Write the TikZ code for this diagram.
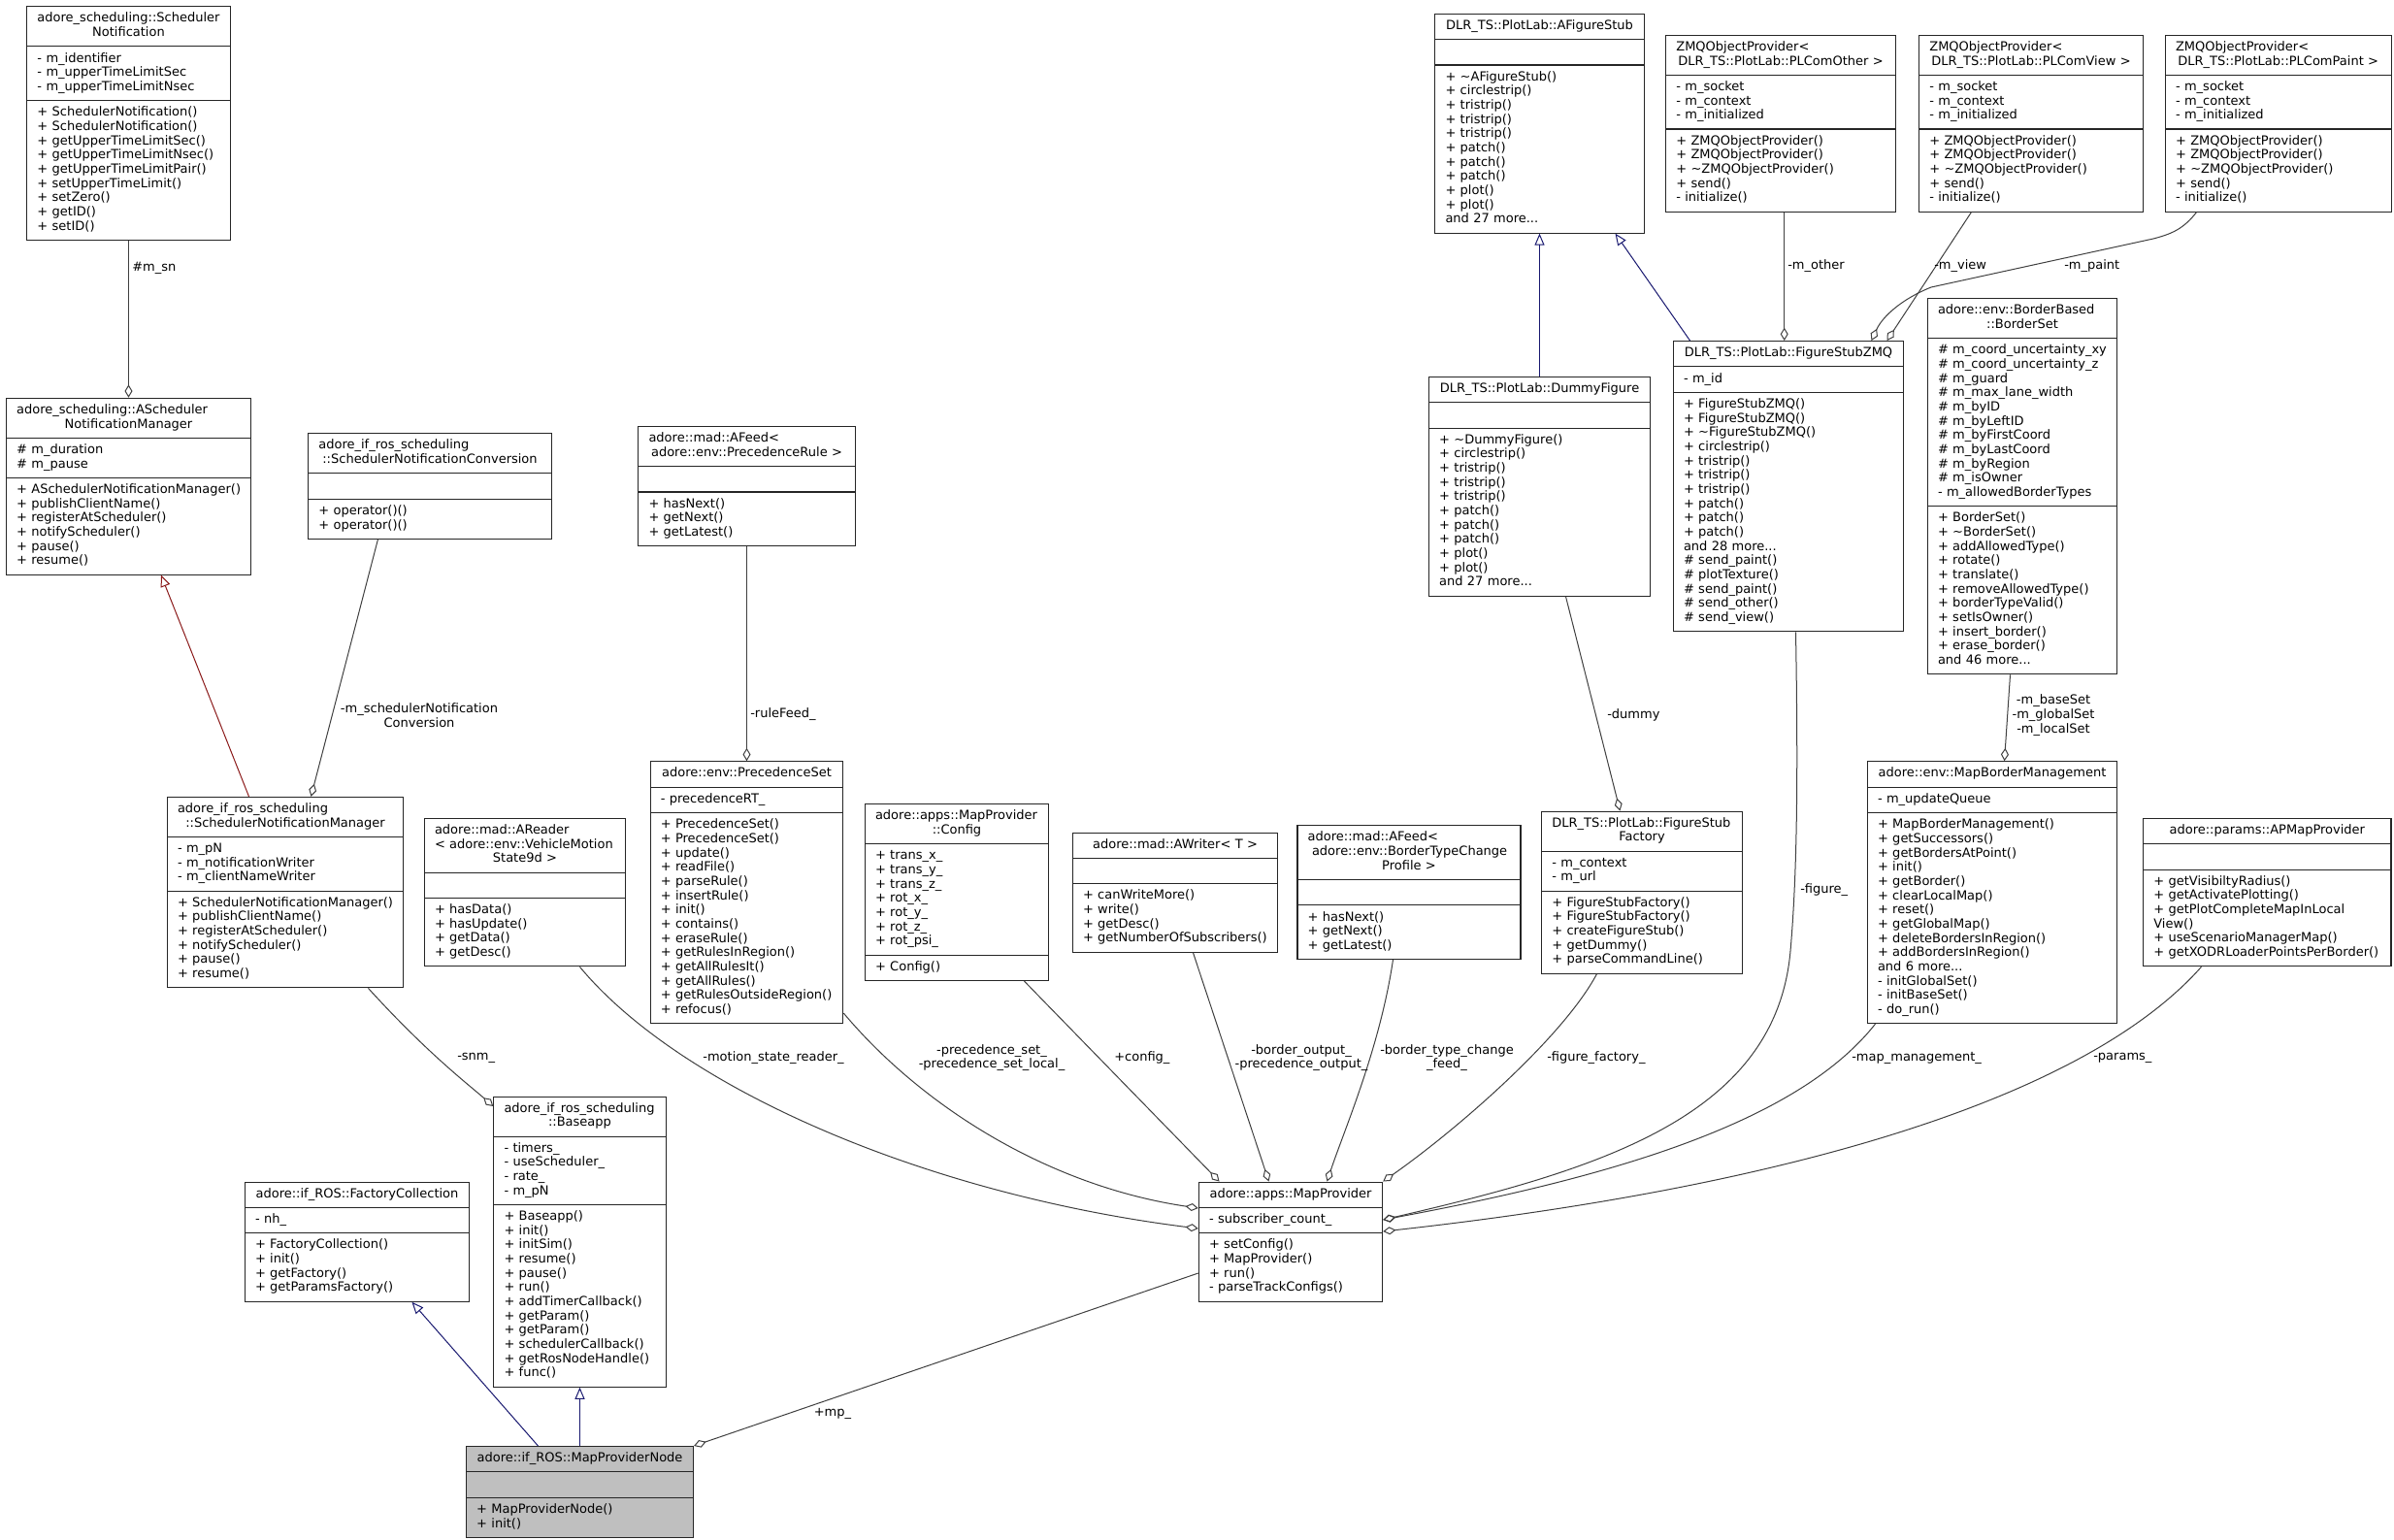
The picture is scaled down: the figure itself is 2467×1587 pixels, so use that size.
\documentclass[tikz,border=0pt]{standalone}
\usepackage{fontspec}
\setmainfont{DejaVu Sans}
\usetikzlibrary{shapes.multipart,arrows.meta,calc}
\newcommand\cfont{\fontsize{9.75pt}{11pt}\selectfont}
\newcommand\Tl[1]{{\raggedright\strut\mbox{#1}\par}}
\newcommand\Tc[1]{{\centering\strut\mbox{#1}\par}}
\newcommand\Mb[1]{{\raggedright\strut\mbox{#1}\par}}
\definecolor{edgegray}{HTML}{404040}
\definecolor{navyblue}{HTML}{191970}
\definecolor{firebrick}{HTML}{8B1A1A}
\definecolor{nodegray}{HTML}{BFBFBF}
\begin{document}
\begin{tikzpicture}[x=0.75pt,y=-0.75pt,
  cls/.style={rectangle split, rectangle split parts=3, draw=black!85, line width=0.8pt,
    inner xsep=8pt, inner ysep=4pt, font=\cfont, anchor=north, fill=white, text width=#1},
  agg/.style={draw=edgegray, line width=0.75pt, -{Diamond[open,length=10pt,width=6pt]}},
  inh/.style={draw=navyblue, line width=0.75pt, -{Triangle[open,length=9pt,width=7.5pt]}},
  inhp/.style={draw=firebrick, line width=0.75pt, -{Triangle[open,length=9pt,width=7.5pt]}},
  lbl/.style={font=\cfont, inner sep=0pt, align=center, text=black}]
\fill[white] (0,0) rectangle (2467,1587);
\path[use as bounding box] (0,0) rectangle (2467,1587);

% ---------- rank 0 ----------
\node[cls=141pt] (sn) at (132.5,6.3) {\Tl{adore\_scheduling::Scheduler}\Tc{Notification}
\nodepart{two}\Mb{- m\_identifier}\Mb{- m\_upperTimeLimitSec}\Mb{- m\_upperTimeLimitNsec}
\nodepart{three}\Mb{+ SchedulerNotification()}\Mb{+ SchedulerNotification()}\Mb{+ getUpperTimeLimitSec()}\Mb{+ getUpperTimeLimitNsec()}\Mb{+ getUpperTimeLimitPair()}\Mb{+ setUpperTimeLimit()}\Mb{+ setZero()}\Mb{+ getID()}\Mb{+ setID()}};

\node[cls=145.5pt] (afs) at (1586.5,13.7) {\Tc{DLR\_TS::PlotLab::AFigureStub}
\nodepart{two}\Mb{}
\nodepart{three}\Mb{+ \textasciitilde AFigureStub()}\Mb{+ circlestrip()}\Mb{+ tristrip()}\Mb{+ tristrip()}\Mb{+ tristrip()}\Mb{+ patch()}\Mb{+ patch()}\Mb{+ patch()}\Mb{+ plot()}\Mb{+ plot()}\Mb{and 27 more...}};

\node[cls=161.5pt] (zo) at (1835,35.7) {\Tl{ZMQObjectProvider<}\Tc{DLR\_TS::PlotLab::PLComOther >}
\nodepart{two}\Mb{- m\_socket}\Mb{- m\_context}\Mb{- m\_initialized}
\nodepart{three}\Mb{+ ZMQObjectProvider()}\Mb{+ ZMQObjectProvider()}\Mb{+ \textasciitilde ZMQObjectProvider()}\Mb{+ send()}\Mb{- initialize()}};

\node[cls=157pt] (zv) at (2093,35.7) {\Tl{ZMQObjectProvider<}\Tc{DLR\_TS::PlotLab::PLComView >}
\nodepart{two}\Mb{- m\_socket}\Mb{- m\_context}\Mb{- m\_initialized}
\nodepart{three}\Mb{+ ZMQObjectProvider()}\Mb{+ ZMQObjectProvider()}\Mb{+ \textasciitilde ZMQObjectProvider()}\Mb{+ send()}\Mb{- initialize()}};

\node[cls=158.5pt] (zp) at (2347.7,35.7) {\Tl{ZMQObjectProvider<}\Tc{DLR\_TS::PlotLab::PLComPaint >}
\nodepart{two}\Mb{- m\_socket}\Mb{- m\_context}\Mb{- m\_initialized}
\nodepart{three}\Mb{+ ZMQObjectProvider()}\Mb{+ ZMQObjectProvider()}\Mb{+ \textasciitilde ZMQObjectProvider()}\Mb{+ send()}\Mb{- initialize()}};

% ---------- rank 1 ----------
\node[cls=173pt] (asnm) at (132.5,409.7) {\Tl{adore\_scheduling::AScheduler}\Tc{NotificationManager}
\nodepart{two}\Mb{\# m\_duration}\Mb{\# m\_pause}
\nodepart{three}\Mb{+ ASchedulerNotificationManager()}\Mb{+ publishClientName()}\Mb{+ registerAtScheduler()}\Mb{+ notifyScheduler()}\Mb{+ pause()}\Mb{+ resume()}};

\node[cls=172pt] (snc) at (443,446.3) {\Tl{adore\_if\_ros\_scheduling}\Tc{::SchedulerNotificationConversion}
\nodepart{two}\Mb{}
\nodepart{three}\Mb{+ operator()()}\Mb{+ operator()()}};

\node[cls=151.5pt] (afpr) at (769.5,439) {\Tl{adore::mad::AFeed<}\Tc{adore::env::PrecedenceRule >}
\nodepart{two}\Mb{}
\nodepart{three}\Mb{+ hasNext()}\Mb{+ getNext()}\Mb{+ getLatest()}};

\node[cls=155pt] (dummy) at (1586.5,387.7) {\Tc{DLR\_TS::PlotLab::DummyFigure}
\nodepart{two}\Mb{}
\nodepart{three}\Mb{+ \textasciitilde DummyFigure()}\Mb{+ circlestrip()}\Mb{+ tristrip()}\Mb{+ tristrip()}\Mb{+ tristrip()}\Mb{+ patch()}\Mb{+ patch()}\Mb{+ patch()}\Mb{+ plot()}\Mb{+ plot()}\Mb{and 27 more...}};

\node[cls=162pt] (fszmq) at (1843,351) {\Tc{DLR\_TS::PlotLab::FigureStubZMQ}
\nodepart{two}\Mb{- m\_id}
\nodepart{three}\Mb{+ FigureStubZMQ()}\Mb{+ FigureStubZMQ()}\Mb{+ \textasciitilde FigureStubZMQ()}\Mb{+ circlestrip()}\Mb{+ tristrip()}\Mb{+ tristrip()}\Mb{+ tristrip()}\Mb{+ patch()}\Mb{+ patch()}\Mb{+ patch()}\Mb{and 28 more...}\Mb{\# send\_paint()}\Mb{\# plotTexture()}\Mb{\# send\_paint()}\Mb{\# send\_other()}\Mb{\# send\_view()}};

\node[cls=130.5pt] (bset) at (2084,307) {\Tl{adore::env::BorderBased}\Tc{::BorderSet}
\nodepart{two}\Mb{\# m\_coord\_uncertainty\_xy}\Mb{\# m\_coord\_uncertainty\_z}\Mb{\# m\_guard}\Mb{\# m\_max\_lane\_width}\Mb{\# m\_byID}\Mb{\# m\_byLeftID}\Mb{\# m\_byFirstCoord}\Mb{\# m\_byLastCoord}\Mb{\# m\_byRegion}\Mb{\# m\_isOwner}\Mb{- m\_allowedBorderTypes}
\nodepart{three}\Mb{+ BorderSet()}\Mb{+ \textasciitilde BorderSet()}\Mb{+ addAllowedType()}\Mb{+ rotate()}\Mb{+ translate()}\Mb{+ removeAllowedType()}\Mb{+ borderTypeValid()}\Mb{+ setIsOwner()}\Mb{+ insert\_border()}\Mb{+ erase\_border()}\Mb{and 46 more...}};

% ---------- rank 2 ----------
\node[cls=166.5pt] (snmgr) at (294,820.8) {\Tl{adore\_if\_ros\_scheduling}\Tc{::SchedulerNotificationManager}
\nodepart{two}\Mb{- m\_pN}\Mb{- m\_notificationWriter}\Mb{- m\_clientNameWriter}
\nodepart{three}\Mb{+ SchedulerNotificationManager()}\Mb{+ publishClientName()}\Mb{+ registerAtScheduler()}\Mb{+ notifyScheduler()}\Mb{+ pause()}\Mb{+ resume()}};

\node[cls=139.5pt] (aread) at (541,842.8) {\Tl{adore::mad::AReader}\Tl{< adore::env::VehicleMotion}\Tc{State9d >}
\nodepart{two}\Mb{}
\nodepart{three}\Mb{+ hasData()}\Mb{+ hasUpdate()}\Mb{+ getData()}\Mb{+ getDesc()}};

\node[cls=133pt] (pset) at (769.5,784.2) {\Tc{adore::env::PrecedenceSet}
\nodepart{two}\Mb{- precedenceRT\_}
\nodepart{three}\Mb{+ PrecedenceSet()}\Mb{+ PrecedenceSet()}\Mb{+ update()}\Mb{+ readFile()}\Mb{+ parseRule()}\Mb{+ insertRule()}\Mb{+ init()}\Mb{+ contains()}\Mb{+ eraseRule()}\Mb{+ getRulesInRegion()}\Mb{+ getAllRulesIt()}\Mb{+ getAllRules()}\Mb{+ getRulesOutsideRegion()}\Mb{+ refocus()}};

\node[cls=126pt] (conf) at (986,828.2) {\Tl{adore::apps::MapProvider}\Tc{::Config}
\nodepart{two}\Mb{+ trans\_x\_}\Mb{+ trans\_y\_}\Mb{+ trans\_z\_}\Mb{+ rot\_x\_}\Mb{+ rot\_y\_}\Mb{+ rot\_z\_}\Mb{+ rot\_psi\_}
\nodepart{three}\Mb{+ Config()}};

\node[cls=142.5pt] (awrit) at (1211,857.5) {\Tc{adore::mad::AWriter< T >}
\nodepart{two}\Mb{}
\nodepart{three}\Mb{+ canWriteMore()}\Mb{+ write()}\Mb{+ getDesc()}\Mb{+ getNumberOfSubscribers()}};

\node[cls=156.5pt] (afbtc) at (1452,850.2) {\Tl{adore::mad::AFeed<}\Tl{ adore::env::BorderTypeChange}\Tc{Profile >}
\nodepart{two}\Mb{}
\nodepart{three}\Mb{+ hasNext()}\Mb{+ getNext()}\Mb{+ getLatest()}};

\node[cls=139pt] (fsf) at (1692,835.5) {\Tl{DLR\_TS::PlotLab::FigureStub}\Tc{Factory}
\nodepart{two}\Mb{- m\_context}\Mb{- m\_url}
\nodepart{three}\Mb{+ FigureStubFactory()}\Mb{+ FigureStubFactory()}\Mb{+ createFigureStub()}\Mb{+ getDummy()}\Mb{+ parseCommandLine()}};

\node[cls=177pt] (mbm) at (2053,784.2) {\Tc{adore::env::MapBorderManagement}
\nodepart{two}\Mb{- m\_updateQueue}
\nodepart{three}\Mb{+ MapBorderManagement()}\Mb{+ getSuccessors()}\Mb{+ getBordersAtPoint()}\Mb{+ init()}\Mb{+ getBorder()}\Mb{+ clearLocalMap()}\Mb{+ reset()}\Mb{+ getGlobalMap()}\Mb{+ deleteBordersInRegion()}\Mb{+ addBordersInRegion()}\Mb{and 6 more...}\Mb{- initGlobalSet()}\Mb{- initBaseSet()}\Mb{- do\_run()}};

\node[cls=175.5pt] (apmp) at (2336.3,842.8) {\Tc{adore::params::APMapProvider}
\nodepart{two}\Mb{}
\nodepart{three}\Mb{+ getVisibiltyRadius()}\Mb{+ getActivatePlotting()}\Mb{+ getPlotCompleteMapInLocal}\Mb{View()}\Mb{+ useScenarioManagerMap()}\Mb{+ getXODRLoaderPointsPerBorder()}};

% ---------- rank 3 ----------
\node[cls=117pt] (base) at (597.5,1129.5) {\Tl{adore\_if\_ros\_scheduling}\Tc{::Baseapp}
\nodepart{two}\Mb{- timers\_}\Mb{- useScheduler\_}\Mb{- rate\_}\Mb{- m\_pN}
\nodepart{three}\Mb{+ Baseapp()}\Mb{+ init()}\Mb{+ initSim()}\Mb{+ resume()}\Mb{+ pause()}\Mb{+ run()}\Mb{+ addTimerCallback()}\Mb{+ getParam()}\Mb{+ getParam()}\Mb{+ schedulerCallback()}\Mb{+ getRosNodeHandle()}\Mb{+ func()}};

\node[cls=157.5pt] (fcol) at (368,1217.5) {\Tc{adore::if\_ROS::FactoryCollection}
\nodepart{two}\Mb{- nh\_}
\nodepart{three}\Mb{+ FactoryCollection()}\Mb{+ init()}\Mb{+ getFactory()}\Mb{+ getParamsFactory()}};

\node[cls=126pt] (mp) at (1330,1217.5) {\Tc{adore::apps::MapProvider}
\nodepart{two}\Mb{- subscriber\_count\_}
\nodepart{three}\Mb{+ setConfig()}\Mb{+ MapProvider()}\Mb{+ run()}\Mb{- parseTrackConfigs()}};

% ---------- rank 4 ----------
\node[cls=159.5pt, fill=nodegray] (mpn) at (597.5,1490) {\Tc{adore::if\_ROS::MapProviderNode}
\nodepart{two}\Mb{}
\nodepart{three}\Mb{+ MapProviderNode()}\Mb{+ init()}};

% ---------- connectors ----------
\draw[agg] (sn.south) -- (asnm.north);
\draw[inhp] ($(snmgr.north west)+(84.7,0)$) -- ($(asnm.south west)+(160,0)$);
\draw[agg] ($(snc.south west)+(72.3,0)$) -- ($(snmgr.north west)+(148.7,0)$);
\draw[agg] (afpr.south) -- (pset.north);
\draw[agg] ($(snmgr.south west)+(207.7,0)$) .. controls (440,1085) and (482,1117) .. ($(base.north west)+(0,10.5)$);
\draw[agg] ($(aread.south west)+(160.7,0)$) .. controls (700,1120) and (950,1230) .. ($(mp.north west)+(0,48.5)$);
\draw[agg] ($(pset.south east)+(0,-11)$) .. controls (950,1140) and (1080,1222) .. ($(mp.north west)+(0,27.5)$);
\draw[agg] ($(conf.south west)+(164.7,0)$) -- ($(mp.north west)+(21.7,0)$);
\draw[agg] ($(awrit.south west)+(124.7,0)$) -- ($(mp.north west)+(72.7,0)$);
\draw[agg] ($(afbtc.south west)+(99,0)$) .. controls (1422,1080) and (1385,1165) .. ($(mp.north west)+(132.7,0)$);
\draw[agg] ($(fszmq.south west)+(126.7,0)$) .. controls (1853,800) and (1852,900) .. (1845,980) .. controls (1830,1150) and (1650,1205) .. ($(mp.north east)+(0,39.5)$);
\draw[agg] ($(fsf.south west)+(57.3,0)$) .. controls (1610,1070) and (1500,1165) .. (mp.north east);
\draw[agg] ($(mbm.south west)+(8.7,0)$) .. controls (1850,1160) and (1650,1215) .. ($(mp.north east)+(0,39.5)$);
\draw[agg] ($(apmp.south west)+(60.3,0)$) .. controls (2150,1130) and (1850,1222) .. ($(mp.north east)+(0,51.5)$);
\draw[inh] ($(fszmq.north west)+(17.7,0)$) -- ($(afs.south west)+(186.2,0)$);
\draw[inh] (dummy.north) -- (afs.south);
\coordinate (o1) at ($(fszmq.north west)+(114.9,0)$);
\draw[agg] (o1 |- zo.south) -- (o1);
\draw[agg] ($(zv.south west)+(54.3,0)$) -- ($(fszmq.north west)+(220.7,0)$);
\draw[agg] ($(zp.south west)+(32.7,0)$) .. controls (2250,236) and (2238,241) .. (2219,246) -- (1990,296) .. controls (1960,308) and (1940,326) .. ($(fszmq.north west)+(204.7,0)$);
\draw[agg] ($(dummy.south west)+(141.5,0)$) -- ($(fsf.north west)+(81.3,0)$);
\draw[agg] ($(bset.south west)+(85.7,0)$) -- ($(mbm.north west)+(141.7,0)$);
\draw[agg] ($(mp.north west)+(0,94.5)$) -- (mpn.north east);
\draw[inh] ($(mpn.north west)+(74.5,0)$) -- ($(fcol.south west)+(172.7,0)$);
\draw[inh] (mpn.north) -- (base.south);

% ---------- labels ----------
\node[lbl, anchor=west] (l1) at (136,276) {\#m\_sn};
\node[lbl] (l2) at (432,737) {-m\_schedulerNotification\\Conversion};
\node[lbl, anchor=west] (l3) at (773,736) {-ruleFeed\_};
\node[lbl, anchor=west] (l4) at (1842,274) {-m\_other};
\node[lbl, anchor=west] (l5) at (1993,274) {-m\_view};
\node[lbl, anchor=west] (l6) at (2127,274) {-m\_paint};
\node[lbl, anchor=west] (l7) at (1656,737) {-dummy};
\node[lbl] (l8) at (2116,737) {-m\_baseSet\\-m\_globalSet\\-m\_localSet};
\node[lbl, anchor=west] (l9) at (1855,917) {-figure\_};
\node[lbl, anchor=west] (l10) at (471,1090) {-snm\_};
\node[lbl] (l11) at (797,1090) {-motion\_state\_reader\_};
\node[lbl] (l12) at (1022,1090) {-precedence\_set\_\\-precedence\_set\_local\_};
\node[lbl, anchor=west] (l13) at (1148,1090) {+config\_};
\node[lbl] (l14) at (1341,1090) {-border\_output\_\\-precedence\_output\_};
\node[lbl] (l15) at (1491,1090) {-border\_type\_change\\\_feed\_};
\node[lbl, anchor=west] (l16) at (1594,1090) {-figure\_factory\_};
\node[lbl, anchor=west] (l17) at (1908,1090) {-map\_management\_};
\node[lbl, anchor=west] (l18) at (2157,1090) {-params\_};
\node[lbl] (l19) at (858,1457) {+mp\_};
\end{tikzpicture}
\end{document}
